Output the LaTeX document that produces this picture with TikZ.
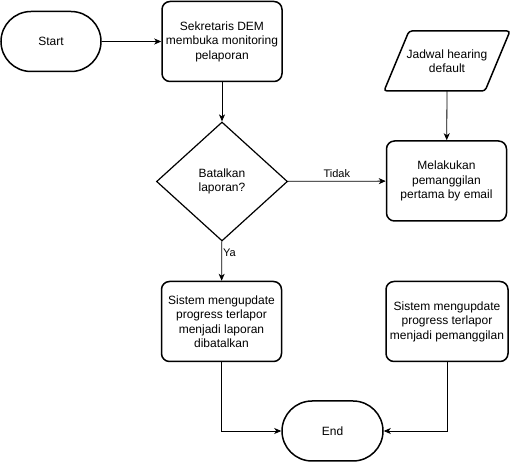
\documentclass[tikz,border=0pt]{standalone}
\usepackage{fontspec}
\setmainfont{Liberation Sans}
\usetikzlibrary{shapes.geometric,arrows.meta}
\begin{document}
\begin{tikzpicture}[x=1pt,y=-1pt,
 box/.style={draw, line width=1.5pt, rounded corners=8pt, minimum width=120pt, minimum height=80pt, inner sep=0pt, align=center, font=\fontsize{12}{14.5}\selectfont},
 term/.style={draw, line width=1.5pt, rounded corners=30pt, minimum width=100pt, minimum height=60pt, inner sep=0pt, font=\fontsize{12}{14.5}\selectfont},
 dec/.style={draw, diamond, line width=1.2pt, minimum width=131pt, minimum height=119pt, inner sep=0pt, align=center, font=\fontsize{12}{14.5}\selectfont},
 conn/.style={line width=0.8pt, -{Stealth[length=7pt,width=6pt,inset=2pt]}},
 lbl/.style={font=\fontsize{11}{13}\selectfont}]
\useasboundingbox (0,0) rectangle (512,462);
\node[term] (start) at (51,41.5) {Start};
\node[box] (sek) at (222,41.5) {Sekretaris DEM\\membuka monitoring\\pelaporan};
\node[dec] (bat) at (222,181.5) {Batalkan\\laporan?};
\draw[line width=1.5pt, rounded corners=3pt] (409,31) -- (510,31) -- (485,91) -- (384,91) -- cycle;
\node[minimum width=100pt, minimum height=60pt, inner sep=0pt, align=center, font=\fontsize{12}{14.5}\selectfont] (jad) at (447,61) {Jadwal hearing\\default};
\node[box] (mel) at (446.5,181) {Melakukan\\pemanggilan\\pertama by email};
\node[box] (sbat) at (221.5,321.5) {Sistem mengupdate\\progress terlapor\\menjadi laporan\\dibatalkan};
\node[box, minimum width=122pt] (spem) at (447,321.5) {Sistem mengupdate\\progress terlapor\\menjadi pemanggilan};
\node[term, minimum width=101pt] (end) at (332.5,431) {End};
\draw[conn] (start) -- (sek);
\draw[conn] (sek) -- (bat);
\draw[conn] (bat) -- node[lbl, above] {Tidak} (mel);
\draw[conn] (bat) -- node[lbl, right, pos=0.3, inner sep=1pt] {Ya} (sbat);
\draw[conn] (jad.south) -- (mel);
\draw[conn] (sbat) |- (end);
\draw[conn] (spem) |- (end);
\end{tikzpicture}
\end{document}
